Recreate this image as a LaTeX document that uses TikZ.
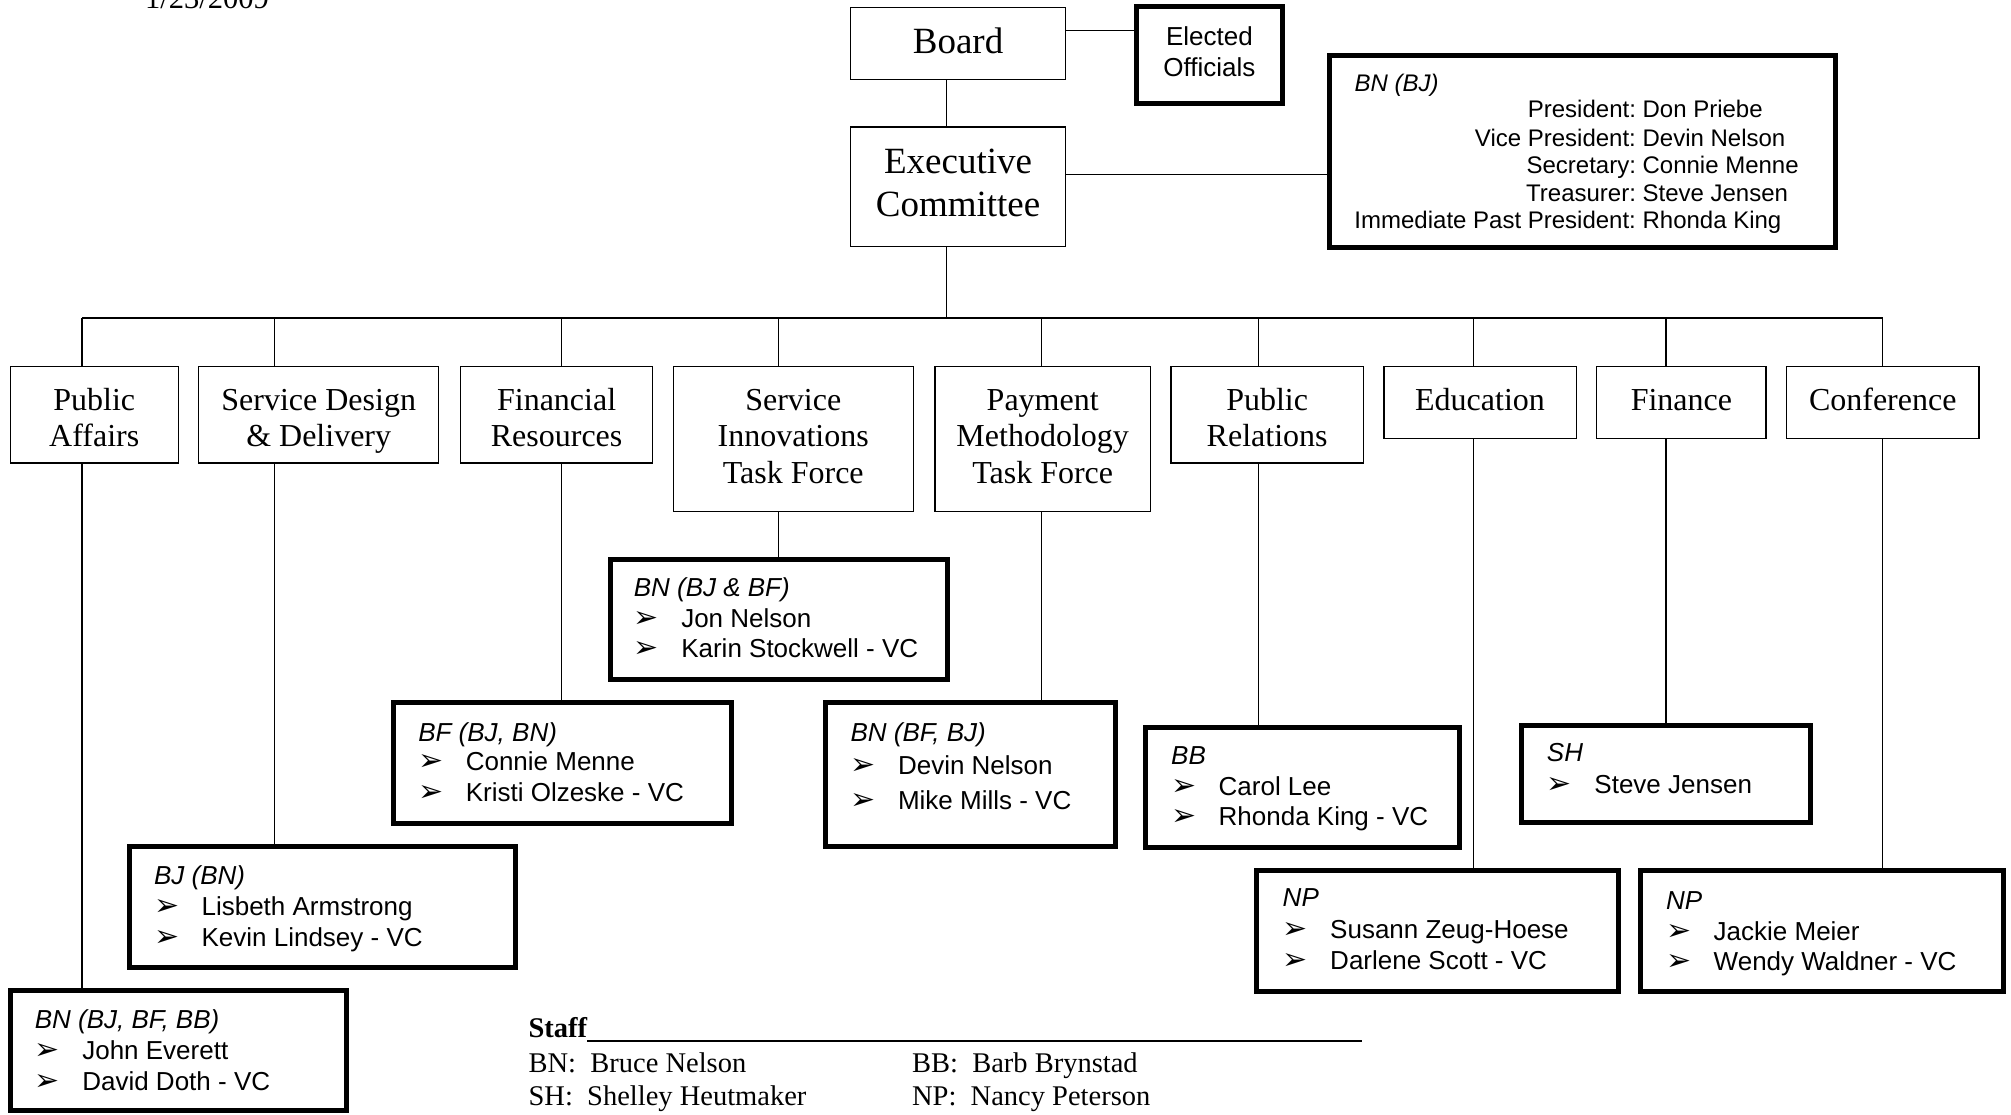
\documentclass[tikz,border=0pt]{standalone}
\usepackage{fontspec}
\setmainfont{Liberation Serif}
\newfontfamily\sansf{Liberation Sans}
\newfontfamily\dvf{DejaVu Sans}
\newcommand\myk{1.2825}
\tikzset{
 thinbox/.style={draw, line width=1.3pt, inner sep=0pt},
 thickbox/.style={draw, line width=5pt, inner sep=0pt},
 conn/.style={line width=1.3pt},
 stxt/.style={inner sep=0pt, anchor=base west, font=\sansf\fontsize{26}{30}\selectfont},
 otxt/.style={inner sep=0pt, anchor=base west, font=\sansf\fontsize{24}{28}\selectfont},
 etxt/.style={inner sep=0pt, anchor=base, font=\sansf\fontsize{26}{30}\selectfont},
 ctxt/.style={inner sep=0pt, anchor=base, font=\fontsize{32}{36.6}\selectfont},
 btxt/.style={inner sep=0pt, anchor=base, font=\fontsize{37}{42.3}\selectfont},
 ltxt/.style={inner sep=0pt, anchor=base west, font=\fontsize{28.5}{33}\selectfont},
}
\newcommand\bx[6]{\node[#6, minimum width={(#4-#2)*\myk*1pt}, minimum height={(#5-#3)*\myk*1pt}] (#1) at ({(#2+#4)/2},{(#3+#5)/2}) {};}
\newcommand\bul{\makebox[47.5pt][l]{\dvf\fontsize{30}{30}\selectfont ➢}}
\begin{document}
\begin{tikzpicture}[x=1.2825pt,y=-1.2825pt]
\useasboundingbox (0,0) rectangle (1568,869);
% date
\node[ltxt, font=\fontsize{30.5}{35}\selectfont] (date) at (113,7) {1/23/2009};
% top
\bx{board}{663}{6}{831}{62}{thinbox}
\node[btxt] (board1) at (747,41.5) {Board};
\bx{exec}{663}{99}{831}{192}{thinbox}
\node[btxt] (exec1) at (747,135.5) {Executive};
\node[btxt] (exec2) at (747,168.5) {Committee};
\bx{elected}{886}{5}{1000}{81}{thickbox}
\node[etxt] (el1) at (943,35.4) {Elected};
\node[etxt] (el2) at (943,59.4) {Officials};
\bx{officers}{1037}{43}{1431}{193}{thickbox}
\node[otxt] (o0) at (1056,71) {\itshape BN (BJ)};
\node[otxt] (o1) at (1275.4,92) {\llap{President:}\ Don Priebe};
\node[otxt] (o2) at (1275.4,114) {\llap{Vice President:}\ Devin Nelson};
\node[otxt] (o3) at (1275.4,135) {\llap{Secretary:}\ Connie Menne};
\node[otxt] (o4) at (1275.4,157) {\llap{Treasurer:}\ Steve Jensen};
\node[otxt] (o5) at (1275.4,178) {\llap{Immediate Past President:}\ Rhonda King};
% committees
\bx{pa}{8}{286}{139}{361}{thinbox}
\node[ctxt] (pa1) at (73.5,320) {Public};
\node[ctxt] (pa2) at (73.5,348.5) {Affairs};
\bx{sdd}{155}{286}{342}{361}{thinbox}
\node[ctxt] (sdd1) at (248.5,320) {Service Design};
\node[ctxt] (sdd2) at (248.5,348.5) {\& Delivery};
\bx{fr}{359}{286}{509}{361}{thinbox}
\node[ctxt] (fr1) at (434,320) {Financial};
\node[ctxt] (fr2) at (434,348.5) {Resources};
\bx{si}{525}{286}{712}{399}{thinbox}
\node[ctxt] (si1) at (618.5,320) {Service};
\node[ctxt] (si2) at (618.5,348.5) {Innovations};
\node[ctxt] (si3) at (618.5,377) {Task Force};
\bx{pm}{729}{286}{897}{399}{thinbox}
\node[ctxt] (pm1) at (813,320) {Payment};
\node[ctxt] (pm2) at (813,348.5) {Methodology};
\node[ctxt] (pm3) at (813,377) {Task Force};
\bx{pr}{913}{286}{1063}{361}{thinbox}
\node[ctxt] (pr1) at (988,320) {Public};
\node[ctxt] (pr2) at (988,348.5) {Relations};
\bx{edu}{1079}{286}{1229}{342}{thinbox}
\node[ctxt] (edu1) at (1154,320) {Education};
\bx{fin}{1245}{286}{1377}{342}{thinbox}
\node[ctxt] (fin1) at (1311,320) {Finance};
\bx{conf}{1393}{286}{1543}{342}{thinbox}
\node[ctxt] (conf1) at (1468,320) {Conference};
% staff boxes
\bx{ssi}{476}{436}{739}{530}{thickbox}
\node[stxt] (ssi0) at (494,465) {\itshape BN (BJ \& BF)};
\node[stxt] (ssi1) at (494,489) {\bul Jon Nelson};
\node[stxt] (ssi2) at (494,513) {\bul Karin Stockwell - VC};
\bx{sfr}{307}{548}{570}{642}{thickbox}
\node[stxt] (sfr0) at (326,578) {\itshape BF (BJ, BN)};
\node[stxt] (sfr1) at (326,601) {\bul Connie Menne};
\node[stxt] (sfr2) at (326,625) {\bul Kristi Olzeske - VC};
\bx{spm}{644}{548}{870}{660}{thickbox}
\node[stxt] (spm0) at (663,578) {\itshape BN (BF, BJ)};
\node[stxt] (spm1) at (663,604) {\bul Devin Nelson};
\node[stxt] (spm2) at (663,631) {\bul Mike Mills - VC};
\bx{spr}{893}{567}{1138}{661}{thickbox}
\node[stxt] (spr0) at (913,596) {\itshape BB};
\node[stxt] (spr1) at (913,620) {\bul Carol Lee};
\node[stxt] (spr2) at (913,644) {\bul Rhonda King - VC};
\bx{sfin}{1186}{566}{1412}{641}{thickbox}
\node[stxt] (sfin0) at (1206,594) {\itshape SH};
\node[stxt] (sfin1) at (1206,619) {\bul Steve Jensen};
\bx{ssdd}{101}{660}{402}{754}{thickbox}
\node[stxt] (ssdd0) at (120,690) {\itshape BJ (BN)};
\node[stxt] (ssdd1) at (120,714) {\bul Lisbeth Armstrong};
\node[stxt] (ssdd2) at (120,738) {\bul Kevin Lindsey - VC};
\bx{sedu}{980}{679}{1262}{773}{thickbox}
\node[stxt] (sedu0) at (1000,707) {\itshape NP};
\node[stxt] (sedu1) at (1000,732) {\bul Susann Zeug-Hoese};
\node[stxt] (sedu2) at (1000,756) {\bul Darlene Scott - VC};
\bx{sconf}{1279}{679}{1562}{773}{thickbox}
\node[stxt] (sconf0) at (1299,709) {\itshape NP};
\node[stxt] (sconf1) at (1299,733) {\bul Jackie Meier};
\node[stxt] (sconf2) at (1299,757) {\bul Wendy Waldner - VC};
\bx{spa}{8}{772}{270}{866}{thickbox}
\node[stxt] (spa0) at (27,802) {\itshape BN (BJ, BF, BB)};
\node[stxt] (spa1) at (27,826) {\bul John Everett};
\node[stxt] (spa2) at (27,850) {\bul David Doth - VC};
% legend
\node[ltxt] (leg0) at (412,809) {\textbf{Staff}\rule[-4pt]{775pt}{2pt}};
\node[ltxt] (leg1) at (412,836) {BN:\ \ Bruce Nelson};
\node[ltxt] (leg2) at (711,836) {BB:\ \ Barb Brynstad};
\node[ltxt] (leg3) at (412,862) {SH:\ \ Shelley Heutmaker};
\node[ltxt] (leg4) at (711,862) {NP:\ \ Nancy Peterson};
% connectors
\coordinate (cbe) at (0,24);
\coordinate (ceo) at (0,136);
\coordinate (cex) at (738,248);
\coordinate (cpa) at (64,248);
\coordinate (csdd) at (214,248);
\coordinate (cfr) at (438,248);
\coordinate (csi) at (607,248);
\coordinate (cpm) at (812,248);
\coordinate (cpr) at (981,248);
\coordinate (cedu) at (1149,248);
\coordinate (cfin) at (1299,248);
\coordinate (cconf) at (1468,248);
\draw[conn] (board.east|-cbe) -- (elected.west|-cbe);
\draw[conn] (exec.east|-ceo) -- (officers.west|-ceo);
\draw[conn] (cex|-board.south) -- (cex|-exec.north);
\draw[conn] (cex|-exec.south) -- (cex);
\draw[conn] (cpa) -- (cconf);
\foreach \c/\s in {pa/spa, sdd/ssdd, fr/sfr, si/ssi, pm/spm, pr/spr, edu/sedu, fin/sfin, conf/sconf}{
  \draw[conn] (c\c) -- (c\c|-\c.north);
  \draw[conn] (c\c|-\c.south) -- (c\c|-\s.north);
}
\end{tikzpicture}
\end{document}
